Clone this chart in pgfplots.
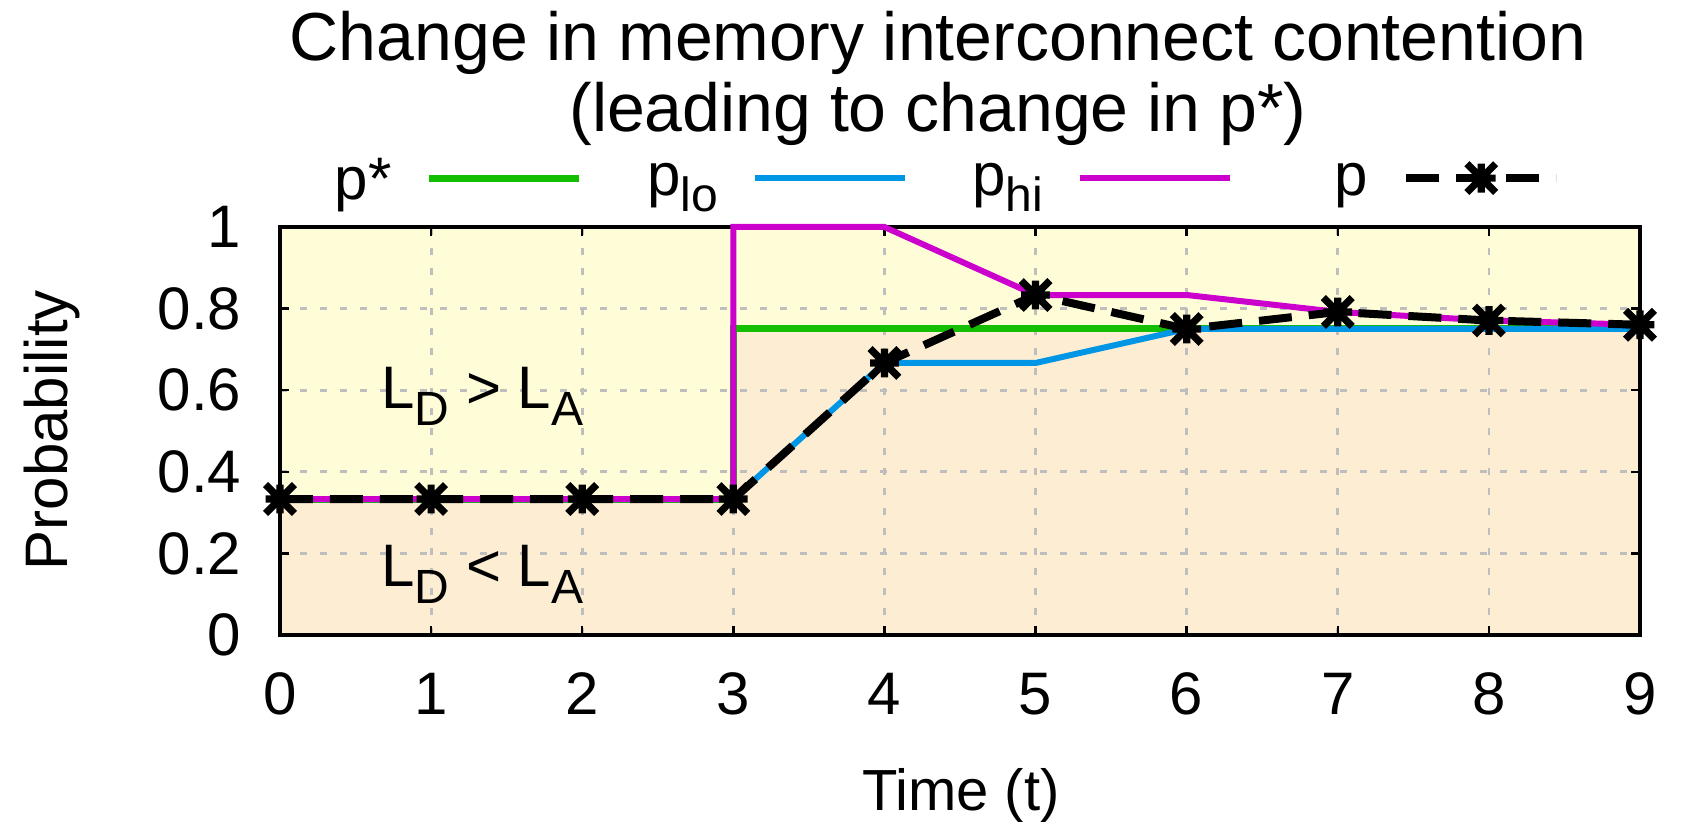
\documentclass[border=0pt]{standalone}
\usepackage{fontspec}
\setmainfont{Liberation Sans}
\usepackage{pgfplots}
\pgfplotsset{compat=1.18}

\definecolor{cgreen}{RGB}{20,190,0}
\definecolor{cblue}{RGB}{0,150,230}
\definecolor{cmag}{RGB}{204,0,204}
\definecolor{cyel}{RGB}{255,252,216}
\definecolor{ctan}{RGB}{253,237,210}
\definecolor{cgrid}{RGB}{190,190,190}

\newcommand{\fs}{\fontsize{15pt}{18pt}\selectfont}
\newcommand{\sub}[1]{\raisebox{-0.27em}{\fontsize{12pt}{12pt}\selectfont #1}}

\pgfdeclareplotmark{gpstar}{%
  \pgfpathmoveto{\pgfqpoint{-\pgfplotmarksize}{-\pgfplotmarksize}}%
  \pgfpathlineto{\pgfqpoint{\pgfplotmarksize}{\pgfplotmarksize}}%
  \pgfpathmoveto{\pgfqpoint{-\pgfplotmarksize}{\pgfplotmarksize}}%
  \pgfpathlineto{\pgfqpoint{\pgfplotmarksize}{-\pgfplotmarksize}}%
  \pgfpathmoveto{\pgfqpoint{0pt}{-\pgfplotmarksize}}%
  \pgfpathlineto{\pgfqpoint{0pt}{\pgfplotmarksize}}%
  \pgfpathmoveto{\pgfqpoint{-\pgfplotmarksize}{0pt}}%
  \pgfpathlineto{\pgfqpoint{\pgfplotmarksize}{0pt}}%
  \pgfusepathqstroke}

\begin{document}
\begin{tikzpicture}
\begin{axis}[
  set layers,
  at={(0,0)}, anchor=south west,
  scale only axis, width=340pt, height=102pt,
  xmin=0, xmax=9, ymin=0, ymax=1,
  xtick={0,1,2,3,4,5,6,7,8,9},
  xticklabels={0,1,2,3,4,5,6,7,8,9},
  ytick={0,0.2,0.4,0.6,0.8,1},
  yticklabels={0,0.2,0.4,0.6,0.8,1},
  tick align=inside, major tick length=2.25pt,
  xtick pos=both, ytick pos=both,
  tick style={black, line width=0.6pt},
  grid=major,
  major grid style={dash pattern=on 1.75pt off 3.25pt, line width=0.7pt, color=cgrid},
  axis line style={line width=0.9pt},
  clip=false,
  tick label style={font=\fs},
  xticklabel style={anchor=north, inner sep=0pt, yshift=-9.25pt},
  yticklabel style={anchor=east, inner sep=0pt, xshift=-9.5pt},
  legend columns=4,
  legend plot pos=right,
  legend image code/.code={\draw[mark repeat=2,mark phase=2] plot coordinates {(0pt,1pt)(18.75pt,1pt)(37.5pt,1pt)};},
  legend style={draw=none, fill=none, at={(axis description cs:0.033,1.11)}, anchor=west,
    inner sep=0pt, font=\fs, nodes={inner sep=0pt},
    /tikz/every odd column/.append style={column sep=8.5pt},
    /tikz/every even column/.append style={column sep=17.3pt}},
]
% background regions
\addplot[fill=cyel, draw=none, forget plot, on layer=axis background]
  coordinates {(0,1) (9,1) (9,0.75) (3,0.75) (3,0.3333) (0,0.3333)} -- cycle;
\addplot[fill=ctan, draw=none, forget plot, on layer=axis background]
  coordinates {(0,0) (0,0.3333) (3,0.3333) (3,0.75) (9,0.75) (9,0)} -- cycle;

% p*
\addplot[cgreen, line width=1.75pt, no marks]
  coordinates {(0,0.3333) (1,0.3333) (2,0.3333) (3,0.3333) (3,0.75) (4,0.75) (5,0.75) (6,0.75) (7,0.75) (8,0.75) (9,0.75)};
\addlegendentry{\makebox[16.5pt][r]{p*}}
% p_lo
\addplot[cblue, line width=1.5pt, no marks]
  coordinates {(0,0.3333) (1,0.3333) (2,0.3333) (3,0.3333) (4,0.6667) (5,0.6667) (6,0.75) (7,0.75) (8,0.75) (9,0.75)};
\addlegendentry{\makebox[16.5pt][r]{p\sub{lo}}}
% p_hi
\addplot[cmag, line width=1.5pt, no marks]
  coordinates {(0,0.3333) (1,0.3333) (2,0.3333) (3,0.3333) (3,1) (4,1) (5,0.8333) (6,0.8333) (7,0.7917) (8,0.7708) (9,0.7604)};
\addlegendentry{\makebox[16.5pt][r]{p\sub{hi}}}
% p
\addplot[black, line width=2pt, dash pattern=on 8.25pt off 4.25pt, mark=gpstar, mark size=3.6pt,
  mark options={solid, line width=1.8pt}]
  coordinates {(0,0.3333) (1,0.3333) (2,0.3333) (3,0.3333) (4,0.6667) (5,0.8333) (6,0.75) (7,0.7917) (8,0.7708) (9,0.7604)};
\addlegendentry{\makebox[16.5pt][r]{p}}

% region labels
\node[anchor=base, font=\fs] at (axis cs:1.34,0.554) {L\sub{D} > L\sub{A}};
\node[anchor=base, font=\fs] at (axis cs:1.34,0.118) {L\sub{D} < L\sub{A}};

% title
\node[anchor=base, font=\fontsize{17pt}{20pt}\selectfont] at (axis description cs:0.4838,1.409) {Change in memory interconnect contention};
\node[anchor=base, font=\fontsize{17pt}{20pt}\selectfont] at (axis description cs:0.4838,1.233) {(leading to change in p*)};

% axis labels
\node[anchor=base, font=\fontsize{14.5pt}{17pt}\selectfont] at (axis description cs:0.5007,-0.429) {Time (t)};
\node[anchor=base, rotate=90, font=\fontsize{15pt}{18pt}\selectfont] at (axis description cs:-0.156,0.502) {Probability};
\end{axis}
\pgfresetboundingbox
\path[use as bounding box] (-70pt,-46.75pt) rectangle (350.25pt,158.75pt);
\end{tikzpicture}
\end{document}
